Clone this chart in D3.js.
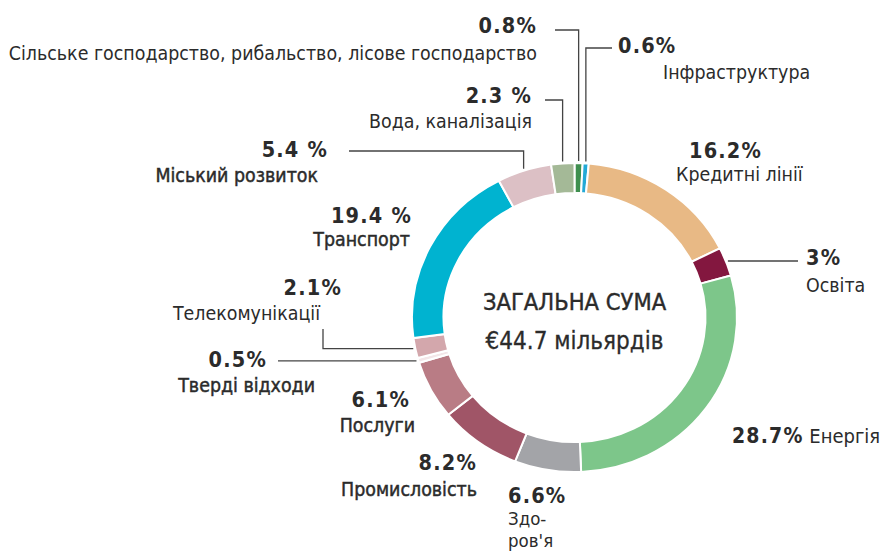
<!DOCTYPE html>
<html>
<head>
<meta charset="utf-8">
<script src="https://cdn.jsdelivr.net/npm/d3@7"></script>
<style>
  body { margin: 0; background: #fff; }
  text { font-family: "DejaVu Sans Condensed", "DejaVu Sans", sans-serif; fill: #2b2b2b; }
</style>
</head>
<body>
<div id="chart"></div>
<script>
// sectors, clockwise from the top
const sectors = ["Сільське господарство, рибальство, лісове господарство", "Інфраструктура",
  "Кредитні лінії", "Освіта", "Енергія", "Здоров'я", "Промисловість", "Послуги",
  "Тверді відходи", "Телекомунікації", "Транспорт", "Міський розвиток", "Вода, каналізація"];
const shares = [0.8, 0.6, 16.2, 3, 28.7, 6.6, 8.2, 6.1, 0.5, 2.1, 19.4, 5.4, 2.3];
const shareLabels = ["0.8%", "0.6%", "16.2%", "3%", "28.7%", "6.6%", "8.2%", "6.1%",
  "0.5%", "2.1%", "19.4 %", "5.4 %", "2.3 %"];
const colors = ["#3f8f4f", "#23a9d6", "#e8b985", "#83173f", "#7dc68a", "#a3a4a8", "#a05567",
  "#b97c85", "#f3e6e8", "#d3a7ac", "#00b3d0", "#dcc0c5", "#a4b997"];
const totalTitle = "ЗАГАЛЬНА СУМА";
const totalValue = "€44.7 мільярдів";

const width = 889, height = 551;
const cx = 574.5, cy = 317.5;
const outerR = 162.5, innerR = 131, ky = 0.951;

const svg = d3.select("#chart").append("svg")
  .attr("width", width)
  .attr("height", height);

const data = sectors.map((s, i) => ({ name: s, value: shares[i], label: shareLabels[i], color: colors[i] }));

const pie = d3.pie().sort(null).value(d => d.value);
const arcs = pie(data);
const arc = d3.arc().innerRadius(innerR).outerRadius(outerR);

// donut (slightly squashed vertically like the original)
svg.append("g")
  .attr("transform", `translate(${cx},${cy}) scale(1,${ky})`)
  .selectAll("path")
  .data(arcs)
  .enter().append("path")
    .attr("d", arc)
    .attr("fill", d => d.data.color)
    .attr("stroke", "#fff")
    .attr("stroke-width", 2)
    .attr("vector-effect", "non-scaling-stroke");

// point just outside the ring at the middle of a slice
function ringPoint(a) {
  const m = (a.startAngle + a.endAngle) / 2;
  const r = outerR + 2;
  return [cx + r * Math.sin(m), cy - r * ky * Math.cos(m)];
}

// label layout: pct position, name position(s), leader line
// mode "v": start -> over to ring x -> down to ring ; "h": start -> (start.x, ring y) -> ring
const layout = [
  { p: [537, 33, "end"], n: [[537, 60, "end"]], line: [[555, 30]], mode: "v" },
  { p: [618, 53, "start"], n: [[663, 79, "start"]], line: [[612, 48]], mode: "v" },
  { p: [689, 158, "start"], n: [[676, 181, "start"]] },
  { p: [806, 265, "start"], n: [[806, 292, "start"]], line: [[798, 0]], mode: "h" },
  { inline: [732, 443] },
  { p: [508, 503, "start"], n: [[508, 525, "start", "Здо-"], [508, 547, "start", "ров'я"]], fs: 18.5 },
  { p: [477, 470, "end"], n: [[477, 496, "end"]], w: 1 },
  { p: [410, 407, "end"], n: [[415, 432, "end"]], w: 1 },
  { p: [267, 367, "end"], n: [[315, 392, "end"]], line: [[278, 0]], mode: "h", w: 1 },
  { p: [342, 295, "end"], n: [[320, 320, "end"]], line: [[323, 329]], mode: "h" },
  { p: [412, 223, "end"], n: [[410, 246, "end"]], w: 1 },
  { p: [328, 157, "end"], n: [[318, 182, "end"]], line: [[349, 151]], mode: "v", w: 1 },
  { p: [532, 103, "end"], n: [[532, 128, "end"]], line: [[545, 100]], mode: "v" }
];

const lineGen = d3.line();

arcs.forEach((a, i) => {
  const L = layout[i];
  if (L.line) {
    const [rx, ry] = ringPoint(a);
    const s = L.line[0];
    let pts;
    if (L.mode === "v") {
      pts = [s, [rx, s[1]], [rx, ry]];
    } else if (s[1] === 0) {
      pts = [[s[0], ry], [rx, ry]];
    } else {
      pts = [s, [s[0], ry], [rx, ry]];
    }
    svg.append("path")
      .attr("d", lineGen(pts))
      .attr("fill", "none")
      .attr("stroke", "#444")
      .attr("stroke-width", 1.3);
  }

  if (L.inline) {
    const t = svg.append("text")
      .attr("x", L.inline[0]).attr("y", L.inline[1])
      .style("font-size", "21px");
    t.append("tspan").attr("font-weight", "bold").attr("letter-spacing", "1.2px").text(a.data.label);
    t.append("tspan").style("font-size", "20px").text(" " + a.data.name);
    return;
  }

  svg.append("text")
    .attr("x", L.p[0]).attr("y", L.p[1])
    .attr("text-anchor", L.p[2])
    .attr("font-weight", "bold")
    .attr("letter-spacing", "1.2px")
    .style("font-size", "21.5px")
    .text(a.data.label);

  L.n.forEach(n => {
    svg.append("text")
      .attr("x", n[0]).attr("y", n[1])
      .attr("text-anchor", n[2])
      .style("font-size", (L.fs || 19.4) + "px")
      .attr("stroke", L.w ? "#2b2b2b" : "none")
      .attr("stroke-width", L.w ? 0.45 : 0)
      .text(n[3] || a.data.name);
  });
});

// centre
svg.append("text")
  .attr("x", cx).attr("y", 310)
  .attr("text-anchor", "middle")
  .attr("stroke", "#2b2b2b").attr("stroke-width", 0.4)
  .style("font-size", "23.5px")
  .text(totalTitle);

svg.append("text")
  .attr("x", cx).attr("y", 349)
  .attr("text-anchor", "middle")
  .attr("stroke", "#2b2b2b").attr("stroke-width", 0.3)
  .style("font-size", "24px")
  .text(totalValue);
</script>
</body>
</html>
